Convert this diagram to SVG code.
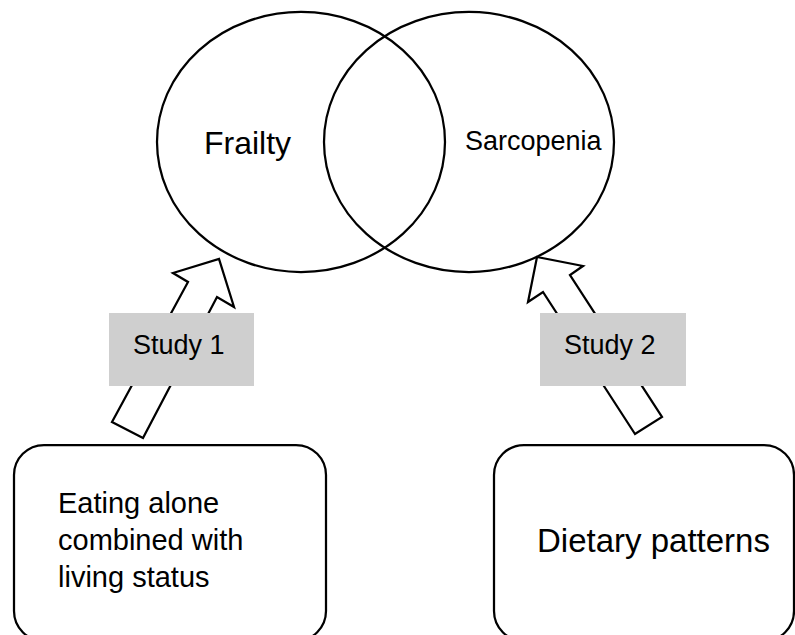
<svg xmlns="http://www.w3.org/2000/svg" width="795" height="635" viewBox="0 0 795 635">
<style>
.shape{fill:none;stroke:#000;stroke-width:2.25}
.box{fill:#fff;stroke:#000;stroke-width:2.25}
.arrow{fill:#fff;stroke:#000;stroke-width:2.25;stroke-linejoin:miter}
.label{fill:#cfcfcf;stroke:none}
text{font-family:"Liberation Sans",Arial,sans-serif;fill:#000}
</style>
<rect width="795" height="635" fill="#fff"/>
<g id="frailty">
<ellipse class="shape" cx="301" cy="142" rx="144" ry="130"/>
<text x="204" y="154" font-size="32">Frailty</text>
</g>
<g id="sarcopenia">
<ellipse class="shape" cx="469" cy="142" rx="145" ry="130"/>
<text x="465" y="150" font-size="27">Sarcopenia</text>
</g>
<g id="connectors">
<polygon class="arrow" points="112,422 188,282 173,273 219,259 234,307 217,297 143,438"/>
<polygon class="arrow" points="635,434 543,292 528,302 537,257 583,266 570,275 662,417"/>
</g>
<g id="study1">
<rect class="label" x="109" y="313" width="145" height="73"/>
<text x="133" y="354" font-size="27">Study 1</text>
</g>
<g id="study2">
<rect class="label" x="540" y="313" width="146" height="73"/>
<text x="564" y="354" font-size="27">Study 2</text>
</g>
<g id="eating">
<rect class="box" x="14" y="445" width="312" height="196" rx="30"/>
<text font-size="29"><tspan x="58" y="513">Eating alone</tspan><tspan x="58" y="550">combined with</tspan><tspan x="58" y="587">living status</tspan></text>
</g>
<g id="dietary">
<rect class="box" x="494" y="445" width="300" height="196" rx="30"/>
<text x="537" y="552" font-size="33">Dietary patterns</text>
</g>
</svg>
